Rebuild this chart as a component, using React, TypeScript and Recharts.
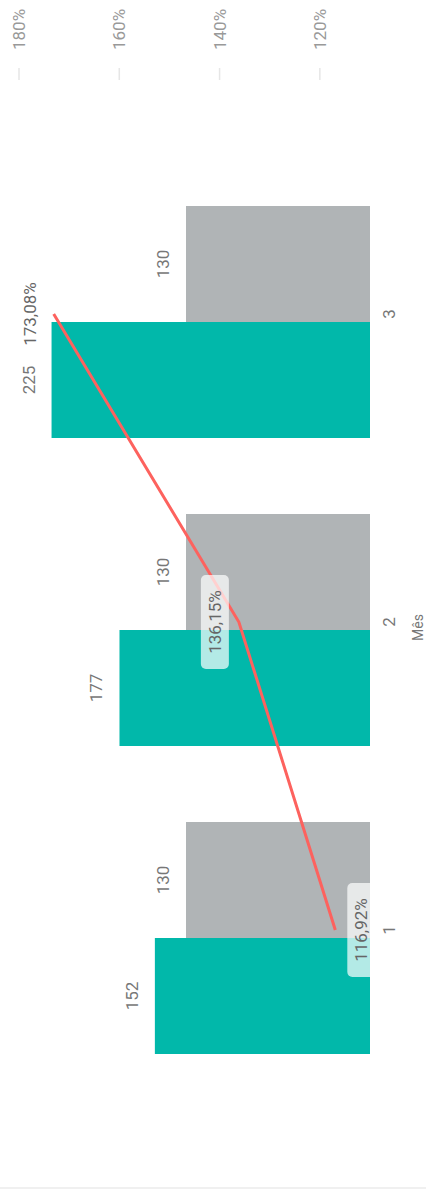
import { ComposedChart, Bar, Line, XAxis, YAxis, LabelList } from "recharts";

const months = ["1", "2", "3"];
const realizado = [152, 177, 225];
const meta = [130, 130, 130];
const atingimento = [116.92, 136.15, 173.08];
const percentTicks = [120, 140, 160, 180];

const data = months.map((mes, i) => ({
  mes,
  realizado: realizado[i],
  meta: meta[i],
  atingimento: atingimento[i],
}));

const font = "Roboto, sans-serif";

const formatPct = (v: number) => v.toFixed(2).replace(".", ",") + "%";

function BarValueLabel(props: any) {
  const { x, y, width, value } = props;
  return (
    <text
      x={x + width / 2}
      y={y - 23}
      textAnchor="middle"
      dominantBaseline="central"
      fill="#777"
      fontSize={17}
      fontFamily={font}
    >
      {value}
    </text>
  );
}

// first label sits under the point, the rest above (like the original)
function PctLabel(props: any) {
  const { x, y, value, index } = props;
  const cy = index === 0 ? y + 26 : y - 24;
  const w = 94;
  const h = 28;
  return (
    <g>
      <rect
        x={x - w / 2}
        y={cy - h / 2}
        width={w}
        height={h}
        rx={5}
        fill="#fff"
        fillOpacity={0.7}
      />
      <text
        x={x}
        y={cy}
        textAnchor="middle"
        dominantBaseline="central"
        fill="#666"
        fontSize={17}
        fontFamily={font}
      >
        {formatPct(value)}
      </text>
    </g>
  );
}

export default function App() {
  return (
    <div
      style={{
        position: "absolute",
        left: 0,
        top: 0,
        width: 426,
        height: 1189,
        overflow: "hidden",
        background: "#fff",
        boxShadow: "inset 0 -2px 0 #f0f0f0",
      }}
    >
      <div
        style={{
          width: 1189,
          height: 426,
          transformOrigin: "0 0",
          transform: "translateY(1189px) rotate(-90deg)",
        }}
      >
        <ComposedChart
          width={1189}
          height={426}
          data={data}
          margin={{ top: 19, right: 0, bottom: 0, left: 90 }}
          barCategoryGap={38}
          barGap={0}
        >
          <XAxis
            xAxisId="main"
            dataKey="mes"
            axisLine={false}
            tickLine={false}
            tickSize={0}
            tickMargin={13}
            height={56}
            padding={{ left: 15, right: 80 }}
            tick={{ fill: "#777", fontSize: 17, fontFamily: font }}
            label={{
              value: "Mês",
              content: ({ viewBox }: any) => (
                <text
                  x={viewBox.x + viewBox.width / 2 - 38}
                  y={viewBox.y + viewBox.height - 3}
                  textAnchor="middle"
                  fill="#777"
                  fontSize={14}
                  fontFamily={font}
                >
                  Mês
                </text>
              ),
            }}
          />
          <XAxis
            xAxisId="bars"
            dataKey="mes"
            hide
            height={0}
            padding={{ left: 7, right: 88 }}
          />
          <YAxis yAxisId="left" hide domain={[0, 248]} />
          <YAxis
            yAxisId="right"
            orientation="right"
            domain={[110, 180]}
            ticks={percentTicks}
            width={80}
            axisLine={false}
            tickLine={{ stroke: "#e6e6e6", strokeWidth: 1.5 }}
            tickSize={12}
            tickMargin={18}
            tickFormatter={(v: number) => `${v}%`}
            tick={{ fill: "#999", fontSize: 17, fontFamily: font }}
          />
          <Bar
            xAxisId="bars"
            yAxisId="left"
            dataKey="realizado"
            fill="#01B8AA"
            isAnimationActive={false}
          >
            <LabelList dataKey="realizado" content={BarValueLabel} />
          </Bar>
          <Bar
            xAxisId="bars"
            yAxisId="left"
            dataKey="meta"
            fill="#B0B4B6"
            isAnimationActive={false}
          >
            <LabelList dataKey="meta" content={BarValueLabel} />
          </Bar>
          <Line
            xAxisId="main"
            yAxisId="right"
            dataKey="atingimento"
            type="linear"
            stroke="#FD625E"
            strokeWidth={3}
            dot={false}
            activeDot={false}
            isAnimationActive={false}
          >
            <LabelList dataKey="atingimento" content={PctLabel} />
          </Line>
        </ComposedChart>
      </div>
    </div>
  );
}
